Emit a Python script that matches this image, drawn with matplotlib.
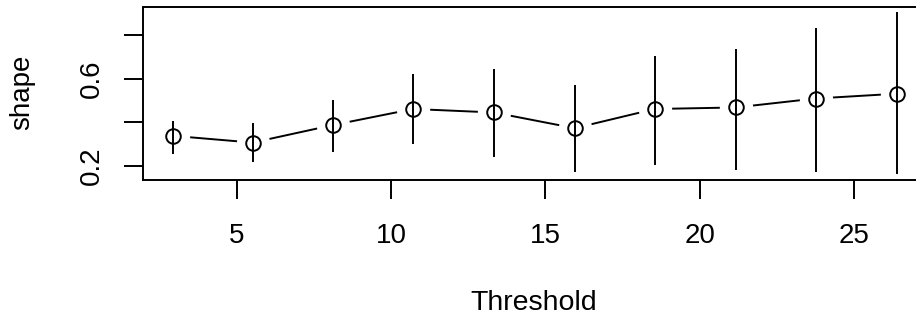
import matplotlib
matplotlib.use("Agg")
import matplotlib.pyplot as plt

plt.rcParams['font.family'] = ['Liberation Sans', 'DejaVu Sans']

threshold = [2.94, 5.52, 8.11, 10.72, 13.33, 15.95, 18.54, 21.16, 23.75, 26.37]
shape = [0.338, 0.307, 0.387, 0.461, 0.445, 0.373, 0.461, 0.468, 0.509, 0.531]
lower = [0.255, 0.220, 0.263, 0.300, 0.243, 0.174, 0.205, 0.182, 0.174, 0.162]
upper = [0.404, 0.396, 0.500, 0.622, 0.645, 0.572, 0.703, 0.738, 0.833, 0.905]
xticks = [5, 10, 15, 20, 25]
yticks = [0.2, 0.4, 0.6, 0.8]
ytick_labels = ['0.2', '', '0.6', '']

W, H = 916, 322
fig = plt.figure(figsize=(W / 100, H / 100), dpi=100)
left, right, top, bottom = 143.3, 933.0, 7.3, 180.0
ax = fig.add_axes([left / W, 1 - bottom / H, (right - left) / W, (bottom - top) / H])

lw = 1.4
ax.plot(threshold, shape, color='black', lw=lw, zorder=1)
ax.plot(threshold, shape, linestyle='none', marker='o', markersize=24,
        markerfacecolor='white', markeredgecolor='none', zorder=2)
ax.vlines(threshold, lower, upper, color='black', lw=lw, zorder=3)
ax.plot(threshold, shape, linestyle='none', marker='o', markersize=10.5,
        markerfacecolor='none', markeredgecolor='black', markeredgewidth=lw, zorder=4)

ax.set_xlim(1.98, 27.55)
ax.set_ylim(0.1356, 0.927)
ax.set_xticks(xticks)
ax.set_xticklabels([str(t) for t in xticks])
ax.set_yticks(yticks)
ax.set_yticklabels(ytick_labels)
for lbl in ax.get_yticklabels():
    lbl.set_rotation(90)
    lbl.set_va('center')

ax.tick_params(axis='both', length=13.7, width=lw, labelsize=20, colors='black')
ax.tick_params(axis='x', pad=17)
ax.tick_params(axis='y', pad=14)
for s in ax.spines.values():
    s.set_linewidth(lw)
    s.set_color('black')

fig.text(534 / W, 1 - 303 / H, 'Threshold', ha='center', va='center', fontsize=20.5)
fig.text(22 / W, 1 - 92 / H, 'shape', ha='center', va='center', rotation=90, fontsize=20)

fig.savefig('out.png', dpi=100)
